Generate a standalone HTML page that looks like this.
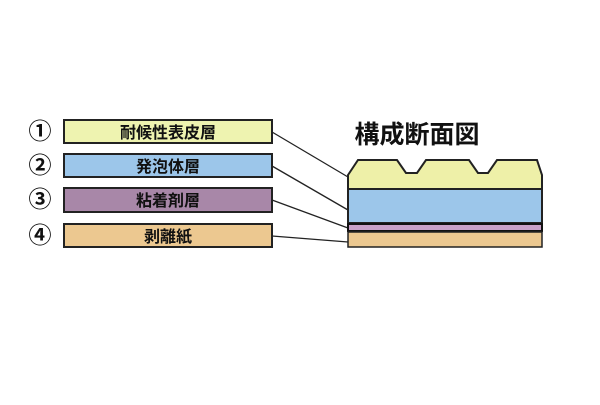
<!DOCTYPE html>
<html><head><meta charset="utf-8"><style>
body{margin:0;background:#fff;width:600px;height:400px;overflow:hidden;font-family:"Liberation Sans","Noto Sans CJK JP",sans-serif}
</style></head><body>
<svg width="600" height="400" xmlns="http://www.w3.org/2000/svg" font-family="Liberation Sans, Noto Sans CJK JP, sans-serif">
<g stroke="#222" stroke-width="2">
<rect x="64" y="120" width="208" height="23" fill="#eef3b0"/>
<rect x="64" y="154" width="208" height="23" fill="#9cc6ea"/>
<rect x="64" y="188" width="208" height="24" fill="#a887a8"/>
<rect x="64" y="224" width="208" height="23" fill="#ecc890"/>
</g>
<g font-size="16" text-anchor="middle" fill="#111" font-weight="bold">
<text x="168" y="138">耐候性表皮層</text>
<text x="168" y="172">発泡体層</text>
<text x="168" y="206">粘着剤層</text>
<text x="168" y="242">剥離紙</text>
</g>
<g font-size="23" text-anchor="middle" fill="#111" font-weight="bold">
<text x="40" y="139">①</text>
<text x="40" y="173">②</text>
<text x="40" y="207">③</text>
<text x="40" y="243">④</text>
</g>
<text x="417" y="143" font-size="25" text-anchor="middle" fill="#111" font-weight="bold">構成断面図</text>
<g stroke="#222" stroke-width="1.3">
<line x1="272" y1="132" x2="348" y2="177"/>
<line x1="272" y1="166" x2="348" y2="210"/>
<line x1="272" y1="200" x2="348" y2="228"/>
<line x1="272" y1="236" x2="348" y2="242"/>
</g>
<path d="M348 175 L358 160 L397 160 L406 173 L417 173 L426 160 L469 160 L478 173 L488 173 L497 160 L537 160 L542 175 L542 189 L348 189 Z" fill="#eef0a8" stroke="#222" stroke-width="2"/>
<rect x="348" y="189" width="194" height="34" fill="#9cc6ea" stroke="#222" stroke-width="2"/>
<rect x="348" y="224" width="194" height="7" fill="#c8a0c8" stroke="#111" stroke-width="2"/>
<rect x="348" y="232" width="194" height="15" fill="#ecc890" stroke="#222" stroke-width="1.5"/>
</svg>
</body></html>
